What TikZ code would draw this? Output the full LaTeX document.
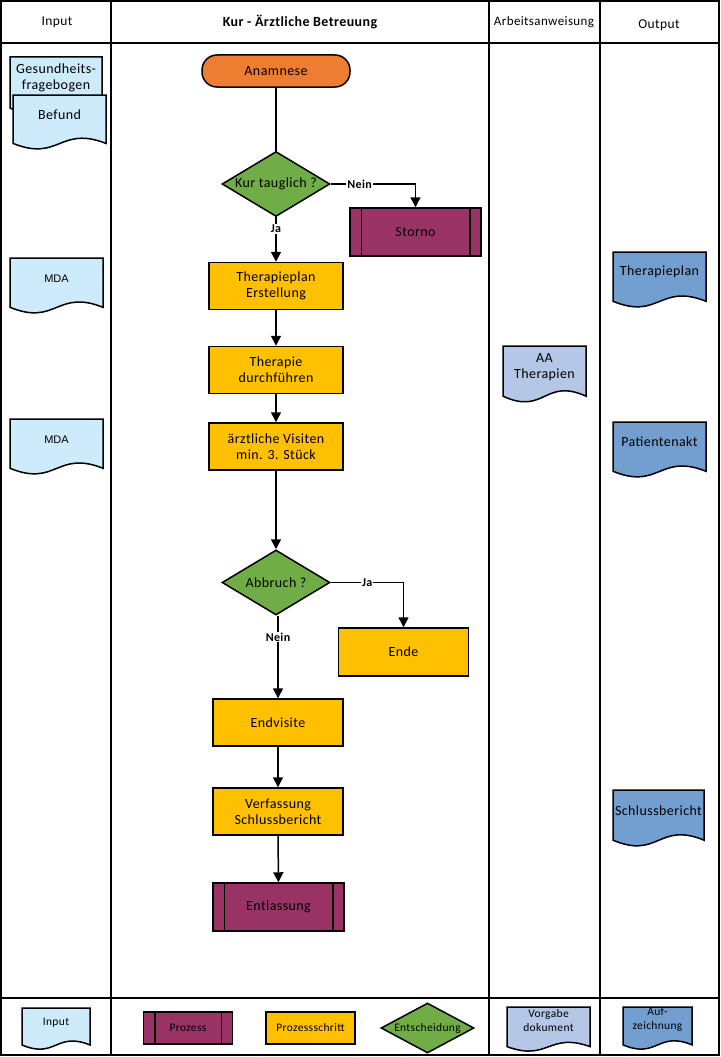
\documentclass[tikz,border=0pt]{standalone}
\usepackage{fontspec}
\setmainfont{Carlito}[LetterSpace=3]
\newfontfamily\arialf{Liberation Sans}
\usetikzlibrary{shapes.geometric,arrows.meta}
\definecolor{cOrange}{HTML}{ED7D31}
\definecolor{cGreen}{HTML}{70AD47}
\definecolor{cPurple}{HTML}{993366}
\definecolor{cYellow}{HTML}{FFC000}
\definecolor{cInput}{HTML}{CDEBFA}
\definecolor{cAA}{HTML}{B4C7E7}
\definecolor{cOut}{HTML}{729FCF}
\newcommand\docpath[5]{%
  \filldraw[fill=#5, line width=1.5pt, line join=miter] (#1,#2) -- (#1,{#2+0.88*(#4-#2)})
    .. controls ({#1+0.5*(#3-#1)},{#2+1.22*(#4-#2)}) and ({#1+0.5*(#3-#1)},{#2+0.55*(#4-#2)}) ..
    (#3,{#2+0.88*(#4-#2)}) -- (#3,#2) -- cycle;}
\tikzset{
  frameline/.style={line width=2pt},
  txt/.style={font=\fontsize{14}{16}\selectfont, align=center, inner sep=1pt},
  smalltxt/.style={font=\fontsize{11.5}{14}\selectfont, align=center, inner sep=1pt},
  stepbox/.style={draw, line width=1.5pt, fill=cYellow, minimum width=134pt, minimum height=47pt, align=center, font=\fontsize{14}{16}\selectfont},
  procbox/.style={draw, line width=1.5pt, fill=cPurple, minimum width=131pt, minimum height=48pt, align=center, font=\fontsize{14}{16}\selectfont},
  decision/.style={diamond, draw, line width=1.5pt, fill=cGreen, minimum width=108pt, minimum height=65pt, inner sep=0pt, font=\fontsize{14}{16}\selectfont},
  conn/.style={line width=1.5pt},
  arr/.style={line width=1.5pt, -{Triangle[width=10pt,length=10pt]}},
  lbl/.style={fill=white, inner sep=1pt, font=\bfseries\fontsize{12}{14}\selectfont},
}
\begin{document}
\begin{tikzpicture}[x=1pt,y=-1pt]
\useasboundingbox (0,0) rectangle (720,1057);
% frame
\draw[frameline] (1,1) rectangle (719,1055);
\draw[frameline] (1,43) -- (719,43);
\draw[frameline] (1,998) -- (719,998);
\draw[frameline] (111,1) -- (111,1055);
\draw[frameline] (489,1) -- (489,1055);
\draw[frameline] (600,1) -- (600,1055);
% headers
\node[txt, font=\fontsize{13.5}{16}\selectfont] (hIn) at (57,22) {Input};
\node[txt, font=\bfseries\fontsize{14}{16}\selectfont] (hKur) at (300,22) {Kur - Ärztliche Betreuung};
\node[txt, font=\fontsize{13}{14}\selectfont] (hAA) at (544,22) {Arbeitsanweisung};
\node[txt, font=\fontsize{13.5}{16}\selectfont] (hOut) at (659,25) {Output};
% input docs
\docpath{10}{57}{102}{115}{cInput}
\node[txt] (gfb) at (56,78) {Gesundheits-\\fragebogen};
\docpath{13}{95}{106}{150}{cInput}
\node[txt] (bef) at (59.5,115) {Befund};
\docpath{10}{258}{103}{314}{cInput}
\node[txt, font=\arialf\fontsize{11}{13}\selectfont] (mda1) at (56.5,279) {MDA};
\docpath{10}{419}{103}{475}{cInput}
\node[txt, font=\arialf\fontsize{11}{13}\selectfont] (mda2) at (56.5,440) {MDA};
% AA doc
\docpath{503}{346}{586}{403}{cAA}
\node[txt] (aa) at (544.5,367) {AA\\Therapien};
% output docs
\docpath{613}{252}{706}{308}{cOut}
\node[txt] (otp) at (659.5,272) {Therapieplan};
\docpath{613}{422}{706}{478}{cOut}
\node[txt] (opa) at (659.5,442) {Patientenakt};
\docpath{613}{790}{704}{847}{cOut}
\node[txt] (osb) at (658.5,811) {Schlussbericht};
% main flow
\node[draw, line width=1.5pt, fill=cOrange, rounded corners=15pt, minimum width=148pt, minimum height=32pt, font=\fontsize{14}{16}\selectfont] (ana) at (276,71) {Anamnese};
\node[decision] (kur) at (276,184) {\makebox[0pt]{Kur tauglich ?}};
\node[procbox] (storno) at (415.5,232) {Storno};
\draw[line width=1.5pt] ([xshift=12pt]storno.north west) -- ([xshift=12pt]storno.south west);
\draw[line width=1.5pt] ([xshift=-12pt]storno.north east) -- ([xshift=-12pt]storno.south east);
\node[stepbox] (tpe) at (276,286) {Therapieplan\\Erstellung};
\node[stepbox] (thd) at (276,370) {Therapie\\durchführen};
\node[stepbox] (vis) at (276,446.5) {ärztliche Visiten\\min. 3. Stück};
\node[decision] (abb) at (276,582.5) {\makebox[0pt]{Abbruch ?}};
\node[stepbox, minimum width=130pt, minimum height=48pt] (ende) at (403.5,652) {Ende};
\node[stepbox, minimum width=130pt] (endv) at (278,722.5) {Endvisite};
\node[stepbox, minimum width=130pt] (verf) at (278,811.5) {Verfassung\\Schlussbericht};
\node[procbox, minimum width=131pt] (entl) at (278.5,907) {Entlassung};
\draw[line width=1.5pt] ([xshift=12pt]entl.north west) -- ([xshift=12pt]entl.south west);
\draw[line width=1.5pt] ([xshift=-12pt]entl.north east) -- ([xshift=-12pt]entl.south east);
% connectors
\draw[conn] (ana) -- (kur);
\draw[arr] (kur.east) -| node[lbl, pos=0.17] {Nein} (storno.north);
\draw[arr] (kur) -- node[lbl, pos=0.26] {Ja} (tpe);
\draw[arr] (tpe) -- (thd);
\draw[arr] (thd) -- (vis);
\draw[arr] (vis) -- (abb);
\draw[arr] (abb.east) -| node[lbl, pos=0.25] {Ja} (ende.north);
\draw[arr] (abb.south -| endv.north) -- node[lbl, pos=0.26] {Nein} (endv.north);
\draw[arr] (endv) -- (verf);
\draw[arr] (verf) -- (entl);
% legend
\docpath{22}{1008}{90}{1050}{cInput}
\node[smalltxt] (lin) at (56,1023) {Input};
\node[draw, line width=1.5pt, fill=cPurple, minimum width=89pt, minimum height=32pt, font=\fontsize{11.5}{13}\selectfont] (lpr) at (188,1028) {Prozess};
\draw[line width=1.5pt] ([xshift=12pt]lpr.north west) -- ([xshift=12pt]lpr.south west);
\draw[line width=1.5pt] ([xshift=-12pt]lpr.north east) -- ([xshift=-12pt]lpr.south east);
\node[draw, line width=1.5pt, fill=cYellow, minimum width=89pt, minimum height=32pt, font=\fontsize{11.5}{13}\selectfont] (lps) at (310.5,1028) {Prozessschritt};
\node[diamond, draw, line width=1.5pt, fill=cGreen, minimum width=93pt, minimum height=50pt, inner sep=0pt, font=\fontsize{11.5}{13}\selectfont] (lent) at (427.5,1028) {\makebox[0pt]{Entscheidung}};
\docpath{507}{1007}{590}{1052}{cAA}
\node[smalltxt] (lvd) at (548.5,1021) {Vorgabe\\dokument};
\docpath{623}{1007}{692}{1050}{cOut}
\node[smalltxt] (lauf) at (657.5,1020) {Auf-\\zeichnung};
\end{tikzpicture}
\end{document}
